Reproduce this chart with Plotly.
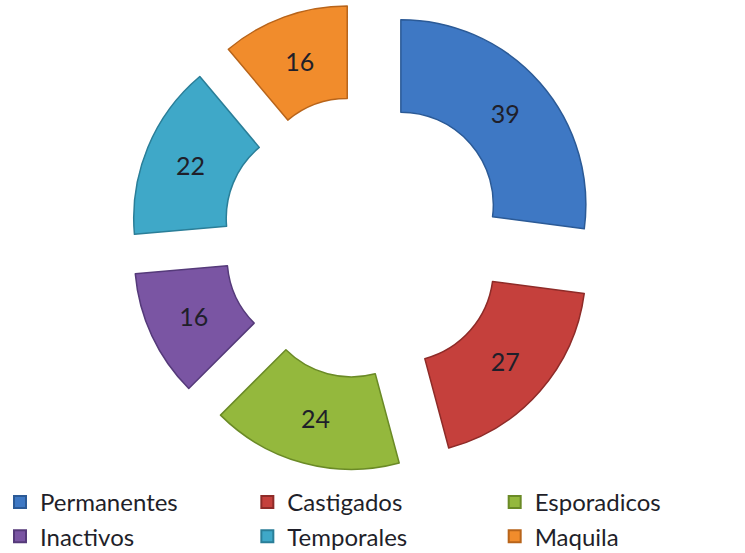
import plotly.graph_objects as go

categories = ["Permanentes", "Castigados", "Esporadicos", "Inactivos", "Temporales", "Maquila"]
values = [39, 27, 24, 16, 22, 16]
colors = ["#3E78C4", "#C5403C", "#94B83D", "#7A55A3", "#3FA8C8", "#F18C2C"]
edge_colors = ["#2B5A96", "#8E2B28", "#6A8A26", "#553A7A", "#2A7E98", "#B8641A"]

W, H = 745, 553
cx, cy = 364, 237
half = 234
fig = go.Figure(go.Pie(
    labels=categories,
    values=values,
    sort=False,
    direction="clockwise",
    rotation=0,
    hole=0.5,
    pull=[0.265] * len(values),
    marker=dict(colors=colors, line=dict(color=edge_colors, width=1.5)),
    textinfo="value",
    textposition="inside",
    insidetextorientation="horizontal",
    textfont=dict(family="Lato", size=25, color="#1f1f2a"),
    domain=dict(x=[(cx - half) / W, (cx + half) / W], y=[0, 1]),
))

plot_top = cy - half
plot_bot = cy + half
fig.update_layout(
    width=W, height=H,
    margin=dict(l=0, r=0, t=plot_top, b=H - plot_bot, autoexpand=False),
    paper_bgcolor="white",
    plot_bgcolor="white",
    showlegend=True,
    legend=dict(
        orientation="h",
        xref="container", yref="container",
        x=0.0, xanchor="left",
        y=1 - 480 / H, yanchor="top",
        font=dict(family="Lato", size=24, color="#1f1f2a"),
        entrywidth=0.332, entrywidthmode="fraction",
        traceorder="normal",
        itemsizing="constant",
        tracegroupgap=0,
    ),
)
fig.write_html("out.html")
